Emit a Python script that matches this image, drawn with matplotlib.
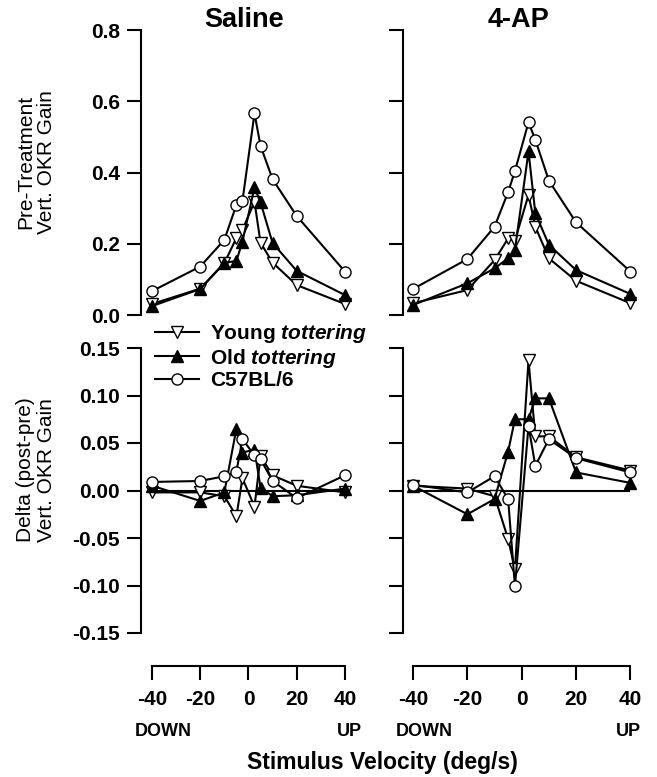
import matplotlib
matplotlib.use("Agg")
import matplotlib.pyplot as plt

plt.rcParams['font.family'] = ['Liberation Sans', 'DejaVu Sans']
plt.rcParams['mathtext.fontset'] = 'custom'
plt.rcParams['mathtext.it'] = 'Liberation Sans:italic:bold'
plt.rcParams['mathtext.rm'] = 'Liberation Sans:bold'

# Stimulus velocities (deg/s)
velocity = [-40, -20, -10, -5, -2.5, 2.5, 5, 10, 20, 40]

# Pre-treatment vertical OKR gain
saline_pre_young = [0.031, 0.074, 0.146, 0.216, 0.239, 0.318, 0.203, 0.147, 0.084, 0.031]
saline_pre_old = [0.025, 0.073, 0.146, 0.152, 0.206, 0.358, 0.316, 0.202, 0.124, 0.056]
saline_pre_c57 = [0.067, 0.136, 0.211, 0.309, 0.320, 0.566, 0.475, 0.381, 0.278, 0.122]

ap_pre_young = [0.033, 0.070, 0.154, 0.215, 0.209, 0.337, 0.248, 0.159, 0.096, 0.033]
ap_pre_old = [0.028, 0.089, 0.131, 0.159, 0.183, 0.459, 0.286, 0.197, 0.126, 0.059]
ap_pre_c57 = [0.073, 0.157, 0.248, 0.345, 0.404, 0.541, 0.492, 0.377, 0.260, 0.122]

# Change in gain (post - pre)
saline_delta_young = [-0.002, -0.002, -0.006, -0.027, 0.013, -0.017, 0.036, 0.016, 0.005, -0.002]
saline_delta_old = [0.005, -0.011, -0.002, 0.065, 0.040, 0.043, 0.003, -0.006, -0.005, 0.002]
saline_delta_c57 = [0.009, 0.010, 0.015, 0.020, 0.054, 0.037, 0.033, 0.010, -0.008, 0.016]

ap_delta_young = [0.005, 0.002, -0.006, -0.051, -0.083, 0.137, 0.057, 0.057, 0.035, 0.021]
ap_delta_old = [0.005, -0.025, -0.009, 0.041, 0.075, 0.075, 0.097, 0.097, 0.019, 0.008]
ap_delta_c57 = [0.006, -0.002, 0.015, -0.009, -0.101, 0.068, 0.026, 0.054, 0.034, 0.019]

group_labels = ["Young $\\mathit{tottering}$", "Old $\\mathit{tottering}$", "C57BL/6"]
panel_titles = ["Saline", "4-AP"]
pre_ticks = [0.0, 0.2, 0.4, 0.6, 0.8]
delta_ticks = [-0.15, -0.10, -0.05, 0.00, 0.05, 0.10, 0.15]
x_ticks = [-40, -20, 0, 20, 40]

W, H = 657, 777
fig = plt.figure(figsize=(W / 100, H / 100), dpi=100)


def frac_box(left, top, right, bottom):
    return [left / W, 1 - bottom / H, (right - left) / W, (bottom - top) / H]


LW = 1.5
FS = 15
styles = [
    dict(marker='v', mfc='white', mec='black'),
    dict(marker='^', mfc='black', mec='black'),
    dict(marker='o', mfc='white', mec='black'),
]


def draw_series(ax, series):
    handles = []
    for vals, st, lab in zip(series, styles, group_labels):
        h, = ax.plot(velocity, vals, color='black', lw=LW, ms=8, mew=1.0,
                     label=lab, clip_on=False, **st)
        handles.append(h)
    return handles


def style_y(ax, ticks, fmt, labels_on):
    for s in ('top', 'right'):
        ax.spines[s].set_visible(False)
    ax.spines['left'].set_linewidth(LW)
    ax.set_yticks(ticks)
    ax.set_yticklabels([fmt.format(v) for v in ticks])
    ax.tick_params(axis='y', direction='out', length=10, width=LW, pad=5,
                   labelsize=FS, labelleft=labels_on)
    for t in ax.get_yticklabels():
        t.set_fontweight('bold')


# columns: (left spine px, right edge px, xlim)
columns = [
    (141, 357, (-44.56, 45)),
    (403, 644, (-43.69, 45)),
]
pre_data = [(saline_pre_young, saline_pre_old, saline_pre_c57),
            (ap_pre_young, ap_pre_old, ap_pre_c57)]
delta_data = [(saline_delta_young, saline_delta_old, saline_delta_c57),
              (ap_delta_young, ap_delta_old, ap_delta_c57)]

label_y_pts = (H - 731) * 0.72
legend_handles = None
for i, (lpx, rpx, xl) in enumerate(columns):
    # pre-treatment panel
    ax = fig.add_axes(frac_box(lpx, 30, rpx, 315))
    ax.set_xlim(*xl)
    ax.set_ylim(0, 0.8)
    draw_series(ax, pre_data[i])
    style_y(ax, pre_ticks, "{:.1f}", i == 0)
    ax.spines['bottom'].set_visible(False)
    ax.set_xticks([])

    # delta panel
    bx = fig.add_axes(frac_box(lpx, 348, rpx, 633))
    bx.set_xlim(*xl)
    bx.set_ylim(-0.15, 0.15)
    bx.hlines(0, velocity[0], velocity[-1], color='black', lw=LW, zorder=1)
    hs = draw_series(bx, delta_data[i])
    if legend_handles is None:
        legend_handles = hs
    style_y(bx, delta_ticks, "{:.2f}", i == 0)
    bx.spines['bottom'].set_position(('outward', 23.8))
    bx.spines['bottom'].set_bounds(-40, 40)
    bx.spines['bottom'].set_linewidth(LW)
    bx.set_xticks(x_ticks)
    bx.set_xticklabels([str(v) for v in x_ticks])
    bx.tick_params(axis='x', direction='out', length=10, width=LW, pad=7,
                   labelsize=FS)
    for t in bx.get_xticklabels():
        t.set_fontweight('bold')

    # direction labels under the end ticks
    bx.annotate("DOWN", xy=(-40, 0), xycoords=('data', 'figure fraction'),
                xytext=(8, label_y_pts), textcoords='offset points',
                ha='center', va='center', fontsize=13, fontweight='bold')
    up_dx = 3.5 if i == 0 else -1.5
    bx.annotate("UP", xy=(40, 0), xycoords=('data', 'figure fraction'),
                xytext=(up_dx, label_y_pts), textcoords='offset points',
                ha='center', va='center', fontsize=13, fontweight='bold')

fig.text(244 / W, 1 - 20 / H, panel_titles[0], ha='center', va='center',
         fontsize=19.5, fontweight='bold')
fig.text(518 / W, 1 - 20 / H, panel_titles[1], ha='center', va='center',
         fontsize=19.5, fontweight='bold')

fig.text(36 / W, 1 - 162 / H, "Pre-Treatment\nVert. OKR Gain", rotation=90,
         ha='center', va='center', fontsize=FS, linespacing=1.15)
fig.text(36 / W, 1 - 470 / H, "Delta (post-pre)\nVert. OKR Gain", rotation=90,
         ha='center', va='center', fontsize=FS, linespacing=1.15)

fig.text(382 / W, 1 - 763 / H, "Stimulus Velocity (deg/s)", ha='center',
         va='center', fontsize=16.5, fontweight='bold')

fig.legend(handles=legend_handles, labels=group_labels, loc='upper left',
           bbox_to_anchor=(155 / W, 1 - 322 / H), bbox_transform=fig.transFigure,
           frameon=False, borderpad=0, borderaxespad=0, handlelength=2.1,
           handletextpad=0.55, labelspacing=0.08, numpoints=1,
           prop=dict(size=FS, weight='bold'))

fig.savefig("out.png", dpi=100)
